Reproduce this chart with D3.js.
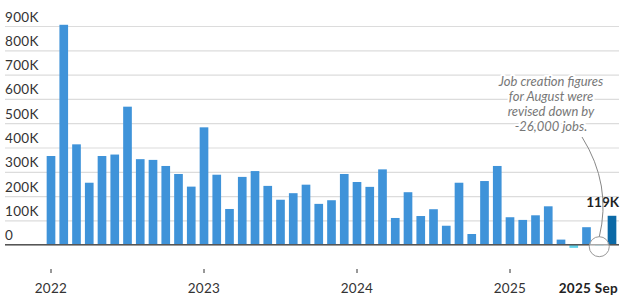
<!DOCTYPE html>
<html>
<head>
<meta charset="utf-8">
<script src="https://cdn.jsdelivr.net/npm/d3@7"></script>
<style>
  html, body { margin: 0; padding: 0; background: #fff; }
  svg { display: block; }
</style>
</head>
<body>
<svg id="chart" width="624" height="302"></svg>
<script>
// ---- data (thousands of jobs) ----
const months = [];
const years = [2022, 2023, 2024, 2025];
const monthNames = ["Jan","Feb","Mar","Apr","May","Jun","Jul","Aug","Sep","Oct","Nov","Dec"];
years.forEach(y => monthNames.forEach((m, i) => { if (!(y === 2025 && i > 8)) months.push(y + "-" + m); }));

const jobs2022 = [365, 905, 413, 255, 365, 371, 568, 352, 349, 324, 291, 239];
const jobs2023 = [483, 288, 147, 279, 303, 242, 185, 212, 247, 168, 183, 291];
const jobs2024 = [258, 238, 310, 110, 216, 118, 146, 78, 255, 44, 262, 324];
const jobs2025 = [113, 102, 121, 158, 21, -13, 72, -4, 119];
const values = [].concat(jobs2022, jobs2023, jobs2024, jobs2025);

const yTicks = [0, 100, 200, 300, 400, 500, 600, 700, 800, 900];
const yTickLabels = ["0", "100K", "200K", "300K", "400K", "500K", "600K", "700K", "800K", "900K"];
const xTickMonths = ["2022-Jan", "2023-Jan", "2024-Jan", "2025-Jan", "2025-Sep"];
const xTickLabels = ["2022", "2023", "2024", "2025", "2025 Sep"];
const latestLabel = "119K";
const noteLines = ["Job creation figures", "for August were", "revised down by", "-26,000 jobs."];

const data = months.map((m, i) => ({ month: m, value: values[i] }));

// ---- layout ----
const svg = d3.select("#chart");
const gridLeft = 5, gridRight = 619;
const step = 12.75;
const firstCenter = 51;
const x = d3.scaleBand()
  .domain(months)
  .range([firstCenter - step / 2, firstCenter - step / 2 + step * months.length])
  .paddingInner(0.32)
  .paddingOuter(0.16);
const y = d3.scaleLinear().domain([0, 900]).range([244.7, 26]);

const font = "Lato, 'Open Sans', sans-serif";

// gridlines + y labels
const yAxis = d3.axisRight(y)
  .tickValues(yTicks)
  .tickSize(gridRight - gridLeft)
  .tickFormat((d, i) => yTickLabels[i]);
const gy = svg.append("g").attr("transform", `translate(${gridLeft},0)`).call(yAxis);
gy.select(".domain").remove();
gy.selectAll(".tick line").attr("stroke", "#dcdcdc").attr("stroke-width", 1.2);
gy.selectAll(".tick text")
  .attr("x", 0).attr("y", -5).attr("dy", 0)
  .attr("text-anchor", "start")
  .attr("fill", "#333")
  .style("font-family", font).style("font-size", "13.5px").style("letter-spacing", "0.3px");

// bars
svg.append("g").selectAll("rect").data(data).join("rect")
  .attr("x", d => x(d.month))
  .attr("width", x.bandwidth())
  .attr("y", d => y(Math.max(0, d.value)))
  .attr("height", d => Math.abs(y(d.value) - y(0)))
  .attr("fill", (d, i) => i === data.length - 1 ? "#0b69a6" : (d.value < 0 ? "#5fd2ea" : "#3f93d9"));

// zero baseline
svg.append("line")
  .attr("x1", gridLeft).attr("x2", gridRight)
  .attr("y1", y(0)).attr("y2", y(0))
  .attr("stroke", "#555").attr("stroke-width", 1.6);

// x axis
const xAxis = d3.axisBottom(x)
  .tickValues(xTickMonths)
  .tickSize(4)
  .tickPadding(10)
  .tickFormat(d => xTickLabels[xTickMonths.indexOf(d)]);
const gx = svg.append("g").attr("transform", "translate(0,269)").call(xAxis);
gx.select(".domain").remove();
gx.selectAll(".tick line").attr("stroke", "#333").attr("stroke-width", 1);
gx.selectAll(".tick text")
  .attr("fill", "#333")
  .style("font-family", font).style("font-size", "13.5px").style("letter-spacing", "0.3px");
const lastTick = gx.selectAll(".tick").filter(d => d === "2025-Sep");
lastTick.select("line").remove();
lastTick.select("text")
  .attr("text-anchor", "end")
  .attr("x", 618 - (x("2025-Sep") + x.bandwidth() / 2))
  .attr("fill", "#222")
  .style("font-weight", "700");

// latest value label
const last = data[data.length - 1];
svg.append("text")
  .attr("x", 619)
  .attr("y", y(last.value) - 9)
  .attr("text-anchor", "end")
  .attr("fill", "#222")
  .style("font-family", font).style("font-size", "13.5px").style("font-weight", "700")
  .text(latestLabel);

// annotation leader + circle
const augX = x("2025-Aug") + x.bandwidth() / 2;
svg.append("path")
  .attr("d", `M582,137 Q612,185 ${augX},237`)
  .attr("fill", "none").attr("stroke", "#888").attr("stroke-width", 1);
svg.append("circle")
  .attr("cx", augX).attr("cy", y(0) + 2).attr("r", 10)
  .attr("fill", "rgba(255,255,255,0.5)").attr("stroke", "#999").attr("stroke-width", 1);

// annotation text
const note = svg.append("text")
  .attr("text-anchor", "middle")
  .attr("fill", "#777")
  .style("font-family", font).style("font-size", "13px").style("font-style", "italic")
  .attr("paint-order", "stroke").attr("stroke", "#fff").attr("stroke-width", 4).attr("stroke-linejoin", "round");
noteLines.forEach((t, i) => {
  note.append("tspan").attr("x", 551).attr("y", 86 + i * 15).text(t);
});
</script>
</body>
</html>
